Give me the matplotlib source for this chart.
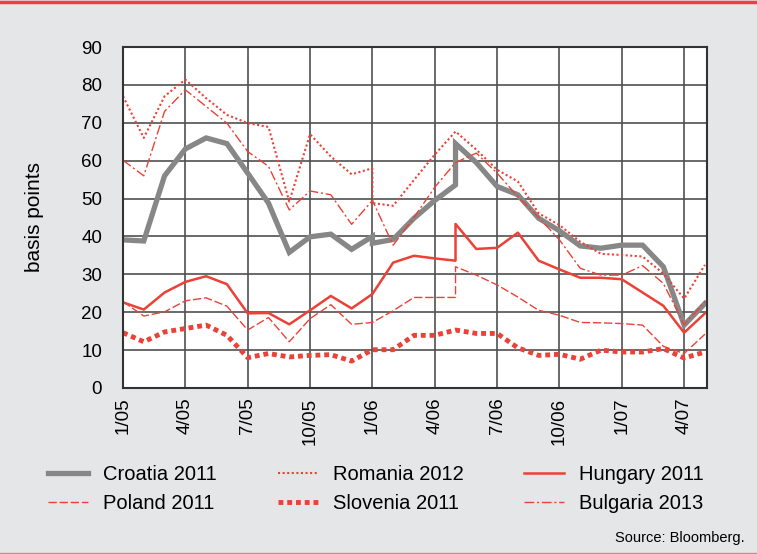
import matplotlib
matplotlib.use("Agg")
import matplotlib.pyplot as plt
import numpy as np

plt.rcParams['font.family'] = ['Liberation Sans', 'DejaVu Sans']

# monthly observations, 1/05 .. 5/07
months = list(range(29))
tick_pos = [0, 3, 6, 9, 12, 15, 18, 21, 24, 27]
tick_labels = ['1/05', '4/05', '7/05', '10/05', '1/06', '4/06', '7/06', '10/06', '1/07', '4/07']

croatia = [39.1, 38.8, 56.0, 63.1, 66.0, 64.5, 56.7, 48.8, 35.8, 39.9, 40.6, 36.6, 38.2, 39.2,
           44.8, 49.5, 64.5, 59.5, 53.2, 51.0, 44.8, 41.5, 37.5, 36.9, 37.7, 37.7, 32.0, 16.6, 22.3]
romania = [77.0, 66.0, 77.0, 81.4, 76.5, 72.1, 69.9, 68.9, 49.2, 67.0, 61.1, 56.4, 48.8, 48.1,
           54.9, 61.6, 67.7, 62.9, 57.6, 54.5, 46.1, 43.0, 38.6, 35.4, 35.1, 34.7, 30.2, 23.6, 32.5]
hungary = [22.6, 20.7, 25.2, 28.0, 29.5, 27.4, 19.7, 19.8, 16.8, 20.5, 24.3, 21.0, 24.8, 33.1,
           34.9, 34.2, 43.3, 36.7, 37.0, 41.0, 33.6, 31.3, 29.1, 29.1, 28.7, 25.2, 21.7, 14.6, 19.7]
poland = [22.8, 19.0, 20.1, 23.0, 23.8, 21.6, 15.3, 18.6, 12.2, 18.3, 22.0, 16.8, 17.3, 20.4,
          23.9, 23.9, 32.0, 29.8, 27.2, 24.0, 20.5, 19.2, 17.3, 17.2, 17.0, 16.6, 11.0, 9.1, 14.2]
slovenia = [14.6, 12.2, 14.8, 15.7, 16.6, 13.9, 8.0, 9.1, 8.2, 8.6, 8.8, 7.1, 10.1, 10.1,
            13.9, 13.9, 15.3, 14.4, 14.4, 10.6, 8.6, 8.9, 7.6, 10.0, 9.5, 9.5, 10.4, 7.9, 9.5]
bulgaria = [60.1, 56.0, 73.0, 78.7, 74.3, 69.9, 62.4, 58.5, 47.0, 52.0, 51.0, 43.2, 49.5, 37.7,
            45.0, 53.0, 59.5, 62.0, 56.7, 50.5, 45.0, 39.1, 31.6, 29.8, 29.8, 32.3, 27.6, 16.7, 22.8]

# value just before a jump inside the same month
croatia_steps = {12: 40.0, 16: 53.6}
romania_steps = {12: 58.0}
hungary_steps = {16: 33.6}
poland_steps = {16: 23.9}


def with_steps(values, steps):
    xs, ys = [], []
    for m, v in zip(months, values):
        if m in steps:
            xs.append(m)
            ys.append(steps[m])
        xs.append(m)
        ys.append(v)
    return xs, ys


red = '#EC4136'
grey = '#878787'

fig = plt.figure(figsize=(7.57, 5.54), dpi=100, facecolor='#E5E6E8')
ax = fig.add_axes([123/757, 1 - 388/554, (707 - 123)/757, (388 - 47)/554])
ax.set_facecolor('white')

x, y = with_steps(croatia, croatia_steps)
l_cro, = ax.plot(x, y, color=grey, lw=3.8, solid_joinstyle='miter', label='Croatia 2011')
x, y = with_steps(romania, romania_steps)
l_rom, = ax.plot(x, y, color=red, lw=1.5, linestyle=(0, (1, 1.2)), label='Romania 2012')
x, y = with_steps(hungary, hungary_steps)
l_hun, = ax.plot(x, y, color=red, lw=1.8, label='Hungary 2011')
x, y = with_steps(poland, poland_steps)
l_pol, = ax.plot(x, y, color=red, lw=1.0, linestyle=(0, (6, 2)), label='Poland 2011')
l_slo, = ax.plot(months, slovenia, color=red, lw=3.5, linestyle=(0, (1, 0.8)), label='Slovenia 2011')
l_bul, = ax.plot(months, bulgaria, color=red, lw=1.0, linestyle=(0, (7, 2, 1.5, 2)), label='Bulgaria 2013')

ax.set_xlim(0, 28.1)
ax.set_ylim(0, 90)
ax.set_yticks(range(0, 91, 10))
ax.set_xticks(tick_pos)
ax.set_xticklabels(tick_labels, rotation=90)
ax.tick_params(length=0, labelsize=13.5)
ax.tick_params(axis='y', pad=15)
ax.tick_params(axis='x', pad=7)
ax.grid(True, color='#505050', lw=1.2)
ax.set_axisbelow(True)
for s in ax.spines.values():
    s.set_color('#333333')
    s.set_linewidth(1.5)

fig.text(34/757, 1 - 217/554, 'basis points', rotation=90, ha='center', va='center', fontsize=15)

# column-major order for a 3 column legend
handles = [l_cro, l_pol, l_rom, l_slo, l_hun, l_bul]
fig.legend(handles, [h.get_label() for h in handles], ncol=3, loc='upper left',
           bbox_to_anchor=(48/757, 1 - 465/554), frameon=False, fontsize=14.5,
           borderpad=0, borderaxespad=0, handlelength=2.0, handletextpad=0.75,
           columnspacing=3.0, labelspacing=0.5)

fig.text(745/757, 1 - 538/554, 'Source: Bloomberg.', ha='right', va='center', fontsize=10.5)

fig.add_artist(plt.Line2D([0, 1], [1 - 2/554, 1 - 2/554], transform=fig.transFigure, color=red, lw=2.5))
fig.add_artist(plt.Line2D([0, 1], [1 - 553/554, 1 - 553/554], transform=fig.transFigure, color='#F08070', lw=1))

fig.savefig('out.png', dpi=100, facecolor=fig.get_facecolor())
